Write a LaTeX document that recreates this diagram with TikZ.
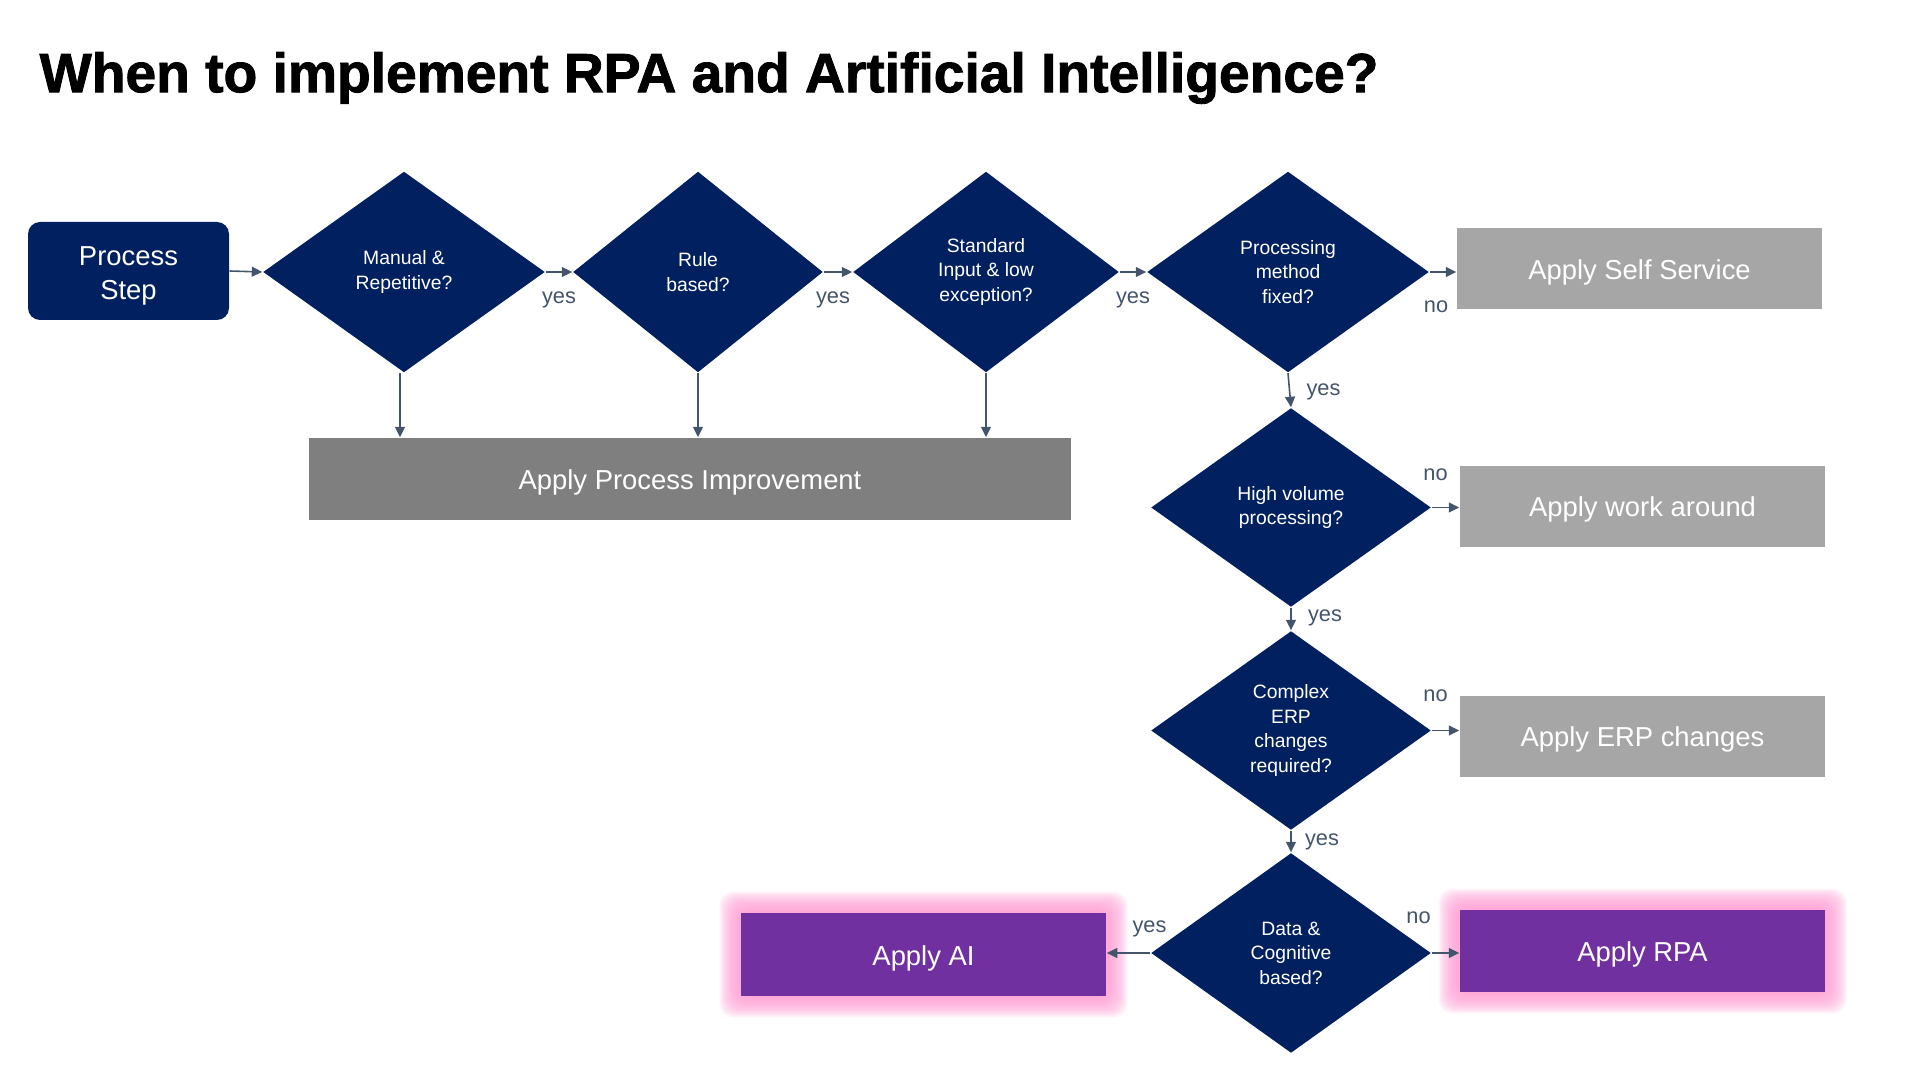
\documentclass[tikz,border=0pt]{standalone}
\usepackage{fontspec}
\setmainfont{Liberation Sans}
\newfontfamily\titlefont{Liberation Sans}[BoldFeatures={FakeBold=1.6}]
\usetikzlibrary{shapes.geometric,arrows.meta,backgrounds}

\definecolor{navy}{HTML}{002060}
\definecolor{lightgr}{HTML}{A6A6A6}
\definecolor{darkgr}{HTML}{7F7F7F}
\definecolor{rpapurple}{HTML}{7030A0}
\definecolor{glowpink}{HTML}{FF9BD2}
\definecolor{arrowgray}{HTML}{44546A}

\tikzset{
  decision/.style={diamond, fill=navy, text=white, inner sep=0pt, align=center,
    font=\fontsize{5.5}{6.95}\selectfont},
  outcome/.style={rectangle, text=white, inner sep=0pt, minimum width=3.65cm,
    minimum height=0.81cm, text height=7pt, text depth=1pt,
    font=\fontsize{7.8}{9.4}\selectfont},
  conn/.style={draw=arrowgray, line width=0.45pt, -{Triangle[length=3pt,width=2.8pt]}},
  lbl/.style={text=arrowgray, inner sep=0pt, font=\fontsize{6.2}{7}\selectfont},
}

\newcommand{\glowbox}[1]{%
  \begin{scope}[on background layer]
    \foreach \g in {1,...,16}
      \fill[glowpink, opacity=0.11, rounded corners=0.14cm]
        ([shift={(-\g*0.013,-\g*0.013)}]#1.south west) rectangle
        ([shift={(\g*0.013,\g*0.013)}]#1.north east);
  \end{scope}}

\begin{document}
\begin{tikzpicture}
  \useasboundingbox (0,0) rectangle (19.2,-10.8);

  % title
  \node[anchor=west, inner sep=0pt, font=\fontsize{15.7}{18}\titlefont\bfseries]
    (title) at (0.39,-0.78) {When to implement RPA and Artificial Intelligence?};

  % top row
  \node[fill=navy, text=white, rounded corners=0.12cm, minimum width=2.01cm,
    minimum height=0.98cm, align=center, font=\fontsize{7.8}{9.8}\selectfont]
    (step) at (1.285,-2.71) {\rule{0pt}{8.1pt}Process\\Step};
  \node[decision, minimum width=2.82cm, minimum height=2.01cm] (d1) at (4.04,-2.72) {Manual \&\\Repetitive?};
  \node[decision, minimum width=2.50cm, minimum height=2.01cm] (d2) at (6.98,-2.72) {Rule\\based?};
  \node[decision, minimum width=2.66cm, minimum height=2.01cm] (d3) at (9.86,-2.72) {Standard\\Input \& low\\exception?};
  \node[decision, minimum width=2.82cm, minimum height=2.01cm] (d4) at (12.88,-2.72) {Processing\\method\\fixed?};
  \node[outcome, fill=lightgr] (self) at (16.395,-2.685) {Apply Self Service};

  \node[outcome, fill=darkgr, minimum width=7.62cm, minimum height=0.82cm] (impr) at (6.90,-4.79) {Apply Process Improvement};

  % right column
  \node[decision, minimum width=2.80cm, minimum height=1.99cm] (d5) at (12.91,-5.075) {High volume\\processing?};
  \node[outcome, fill=lightgr] (work) at (16.425,-5.06) {Apply work around};
  \node[decision, minimum width=2.80cm, minimum height=1.99cm] (d6) at (12.91,-7.305) {Complex\\ERP\\changes\\required?};
  \node[outcome, fill=lightgr] (erp) at (16.425,-7.36) {Apply ERP changes};
  \node[decision, minimum width=2.80cm, minimum height=2.0cm] (d7) at (12.91,-9.53) {Data \&\\Cognitive\\based?};
  \node[outcome, fill=rpapurple, minimum height=0.83cm] (ai) at (9.235,-9.545) {Apply AI};
  \node[outcome, fill=rpapurple, minimum height=0.82cm] (rpa) at (16.425,-9.51) {Apply RPA};
  \glowbox{ai}
  \glowbox{rpa}

  % connectors
  \draw[conn] (step.east) -- (d1.west);
  \draw[conn] (d1.east) -- node[lbl, yshift=-0.28cm] {yes} (d2.west);
  \draw[conn] (d2.east) -- node[lbl, xshift=-0.05cm, yshift=-0.28cm] {yes} (d3.west);
  \draw[conn] (d3.east) -- node[lbl, yshift=-0.28cm] {yes} (d4.west);
  \draw[conn] (d4.east) -- node[lbl, xshift=-0.07cm, yshift=-0.345cm] {no} (d4.east -| self.west);
  \draw[conn] ([xshift=-0.04cm]d1.south) -- ([xshift=-0.04cm]d1.south |- impr.north);
  \draw[conn] (d2.south) -- (d2.south |- impr.north);
  \draw[conn] (d3.south) -- (d3.south |- impr.north);
  \draw[conn] (d4.south) -- node[lbl, xshift=0.34cm, yshift=-0.02cm] {yes} (d5.north);
  \draw[conn] (d5.east) -- node[lbl, xshift=-0.1cm, yshift=0.33cm] {no} (d5.east -| work.west);
  \draw[conn] (d5.south) -- node[lbl, xshift=0.34cm, yshift=0.01cm] {yes} (d6.north);
  \draw[conn] (d6.east) -- node[lbl, xshift=-0.1cm, yshift=0.35cm] {no} (d6.east -| erp.west);
  \draw[conn] (d6.south) -- node[lbl, xshift=0.31cm] {yes} (d7.north);
  \draw[conn] (d7.west) -- node[lbl, xshift=0.21cm, yshift=0.24cm] {yes} (d7.west -| ai.east);
  \draw[conn] (d7.east) -- node[lbl, xshift=-0.27cm, yshift=0.355cm] {no} (d7.east -| rpa.west);
\end{tikzpicture}
\end{document}
